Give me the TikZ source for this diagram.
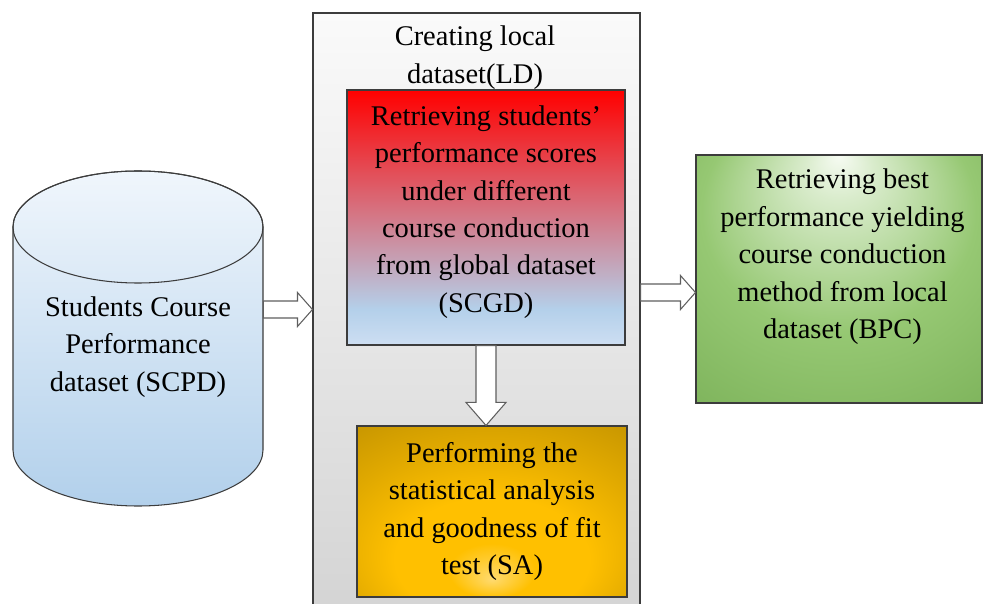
\documentclass[tikz,border=0pt]{standalone}
\usepackage{fontspec}
\setmainfont{Liberation Serif}
\usetikzlibrary{calc}
\definecolor{cloud}{RGB}{240, 246, 252}
\definecolor{skyblue}{RGB}{178, 208, 235}
\definecolor{edgegray}{RGB}{60, 60, 60}
\definecolor{arrowgray}{RGB}{95, 95, 95}
\definecolor{ldtop}{RGB}{250, 250, 250}
\definecolor{ldbottom}{RGB}{212, 212, 212}
\definecolor{alizarin}{RGB}{255, 0, 0}
\definecolor{scgdblue}{RGB}{180, 208, 234}
\definecolor{scgdlow}{RGB}{205, 222, 242}
\definecolor{goldlt}{RGB}{255, 218, 110}
\definecolor{gold}{RGB}{255, 192, 0}
\definecolor{golddk}{RGB}{150, 110, 0}
\definecolor{mint}{RGB}{246, 251, 242}
\definecolor{fern}{RGB}{150, 200, 115}
\definecolor{grass}{RGB}{110, 166, 76}
\pgfdeclareverticalshading{scgdshade}{100bp}{color(0bp)=(scgdlow); color(25bp)=(scgdlow); color(32bp)=(scgdblue); color(75bp)=(alizarin); color(100bp)=(alizarin)}
\pgfdeclareradialshading{sashade}{\pgfpoint{0bp}{-20bp}}{color(0bp)=(goldlt); color(8bp)=(gold); color(18bp)=(gold); color(30bp)=(gold!88!black); color(42bp)=(gold!77!black); color(51bp)=(golddk); color(60bp)=(golddk)}
\pgfdeclareradialshading{bpcshade}{\pgfpoint{0bp}{25bp}}{color(0bp)=(mint); color(6bp)=(mint!70!fern); color(24bp)=(fern); color(52bp)=(grass)}

\begin{document}
\begin{tikzpicture}[
        font=\fontsize{16.2}{21.3}\selectfont,
        stage/.style={draw=edgegray, line width=0.6pt, align=center, inner sep=0pt},
        caption/.style={align=center, inner sep=0pt},
        harrow/.style={draw=arrowgray, fill=white, line width=0.6pt,
            to path={let \p1=(\tikztostart), \p2=(\tikztotarget) in
                (\x1, \y1+0.17cm) -- (\x2-0.30cm, \y1+0.17cm) -- (\x2-0.30cm, \y1+0.34cm) -- (\x2, \y1)
                -- (\x2-0.30cm, \y1-0.34cm) -- (\x2-0.30cm, \y1-0.17cm) -- (\x1, \y1-0.17cm) -- cycle}},
        varrow/.style={draw=arrowgray, fill=white, line width=0.6pt,
            to path={let \p1=(\tikztostart), \p2=(\tikztotarget) in
                (\x1-0.20cm, \y1) -- (\x1-0.20cm, \y2+0.46cm) -- (\x1-0.40cm, \y2+0.46cm) -- (\x1, \y2)
                -- (\x1+0.40cm, \y2+0.46cm) -- (\x1+0.20cm, \y2+0.46cm) -- (\x1+0.20cm, \y1) -- cycle}}]
    \useasboundingbox (0.00, 0.00) rectangle (19.68, 12.06);
    \clip             (0.00, 0.00) rectangle (19.68, 12.06);
    % Global dataset (cylinder)
    \draw[edgegray, line width=0.6pt, top color=cloud, bottom color=skyblue]
        (0.26, 7.52) -- (0.26, 3.06) arc[start angle=180, end angle=360, x radius=2.50, y radius=1.12]
        -- (5.26, 7.52) arc[start angle=0, end angle=180, x radius=2.50, y radius=1.12] -- cycle;
    \draw[edgegray, line width=0.6pt] (2.76, 7.52) ellipse[x radius=2.50, y radius=1.12];
    \node[caption, minimum width=5.00cm] (scpd) at (2.76, 5.12) {Students Course\\Performance\\dataset (SCPD)};
    % Local dataset
    \node[stage, minimum width=6.54cm, minimum height=12.00cm, top color=ldtop, bottom color=ldbottom] (ld) at (9.53, 5.80) {};
    \node[caption] (ldtitle) at (9.50, 10.91) {Creating local\\dataset(LD)};
    \node[stage, minimum width=5.56cm, minimum height=5.10cm, shade, shading=scgdshade] (scgd) at (9.72, 7.71) {};
    \node[caption] (scgdtext) at (9.72, 7.82)
        {Retrieving students’\\performance scores\\under different\\course conduction\\from global dataset\\(SCGD)};
    \node[stage, minimum width=5.40cm, minimum height=3.42cm, shade, shading=sashade] (sa) at (9.84, 1.83)
        {Performing the\\statistical analysis\\and goodness of fit\\test (SA)};
    % Best course conduction
    \node[stage, minimum width=5.72cm, minimum height=4.96cm, shade, shading=bpcshade] (bpc) at (16.78, 6.48) {};
    \node[caption] (bpctext) at (16.85, 6.92) {Retrieving best\\performance yielding\\course conduction\\method from local\\dataset (BPC)};
    % Flow arrows
    \draw[harrow] ([yshift=0.75cm]scpd.east) to (ld.west);
    \draw[varrow] (scgd.south) to (sa.north);
    \draw[harrow] ([yshift=0.41cm]ld.east) to (bpc.west);
\end{tikzpicture}
\end{document}
